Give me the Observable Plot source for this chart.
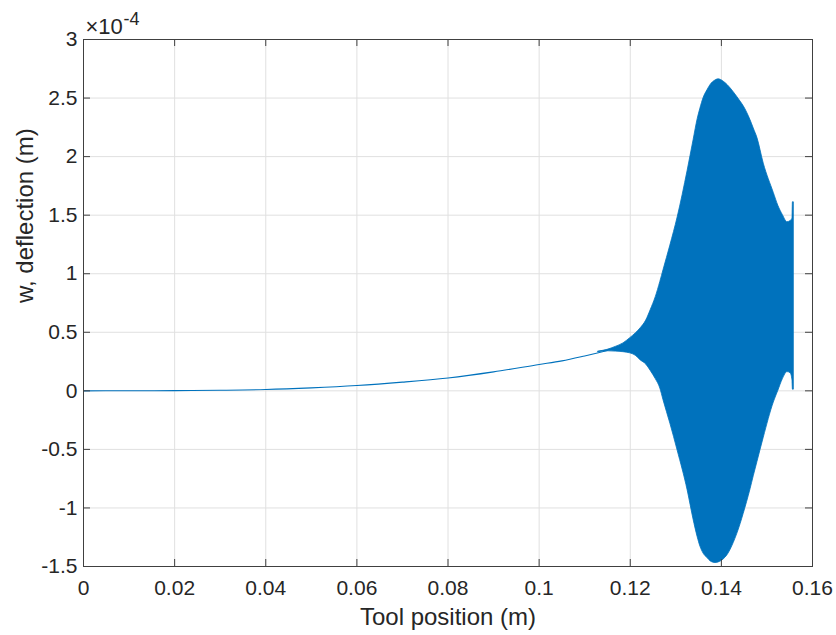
<!DOCTYPE html>
<html>
<head>
<meta charset="utf-8">
<script src="https://cdn.jsdelivr.net/npm/d3@7"></script>
<script src="https://cdn.jsdelivr.net/npm/@observablehq/plot@0.6"></script>
<style>
  html, body { margin: 0; padding: 0; background: #fff; }
</style>
</head>
<body>
<div id="chart"></div>
<script>
// Values of w are in units of 1e-4 m (axis multiplier ×10^-4)
const xTicks = [0, 0.02, 0.04, 0.06, 0.08, 0.1, 0.12, 0.14, 0.16];
const xTickLabels = ["0", "0.02", "0.04", "0.06", "0.08", "0.1", "0.12", "0.14", "0.16"];
const yTicks = [-1.5, -1, -0.5, 0, 0.5, 1, 1.5, 2, 2.5, 3];
const yTickLabels = ["-1.5", "-1", "-0.5", "0", "0.5", "1", "1.5", "2", "2.5", "3"];

// Smooth (pre-chatter) part of the deflection
const smoothX = [0, 0.01, 0.02, 0.03, 0.04, 0.05, 0.06, 0.07, 0.08, 0.09, 0.10, 0.105, 0.11, 0.113, 0.115];
const smoothW = [0, 0.0005, 0.002, 0.005, 0.011, 0.025, 0.045, 0.074, 0.11, 0.162, 0.225, 0.256, 0.298, 0.325, 0.344];

// Oscillation envelope (chatter region)
const envX  = [0.1130, 0.1150, 0.1168, 0.1185, 0.1200, 0.1212, 0.1223, 0.1235, 0.1245, 0.1256, 0.1266, 0.1273, 0.1288, 0.1304, 0.1326, 0.1339, 0.1348, 0.1354, 0.1361, 0.1370, 0.1376, 0.1387, 0.1394, 0.1405, 0.1414, 0.1427, 0.1442, 0.1449, 0.1464, 0.1471, 0.1479, 0.1493, 0.1515, 0.1525, 0.1535, 0.1545, 0.1552, 0.1556, 0.1557, 0.1559];
const envHi = [0.335, 0.350, 0.375, 0.405, 0.450, 0.490, 0.535, 0.600, 0.690, 0.800, 0.930, 1.03, 1.24, 1.48, 1.88, 2.14, 2.32, 2.41, 2.50, 2.57, 2.61, 2.65, 2.66, 2.64, 2.61, 2.55, 2.47, 2.43, 2.31, 2.24, 2.16, 1.94, 1.69, 1.58, 1.50, 1.44, 1.45, 1.47, 1.61, 1.61];
const envLo = [0.330, 0.338, 0.335, 0.330, 0.320, 0.300, 0.260, 0.225, 0.170, 0.100, 0.020, -0.08, -0.28, -0.51, -0.85, -1.10, -1.25, -1.33, -1.39, -1.43, -1.455, -1.47, -1.465, -1.44, -1.40, -1.30, -1.14, -1.05, -0.84, -0.73, -0.61, -0.40, -0.10, 0.0, 0.10, 0.16, 0.15, 0.09, 0.01, 0.01];

const xLabel = "Tool position (m)";
const yLabel = "w, deflection (m)";
const expBase = "×10";
const expPow = "-4";

const smooth = smoothX.map((x, i) => ({x, w: smoothW[i]}));
const env = envX.map((x, i) => ({x, hi: envHi[i], lo: envLo[i]}));

const W = 836, H = 635;
const mL = 83, mR = 24, mT = 39, mB = 69;
const innerW = W - mL - mR, innerH = H - mT - mB;
const tickLen = 7;
const blue = "#0072BD";
const axisColor = "#404040";
const gridColor = "#e0e0e0";
const textColor = "#262626";

const chart = Plot.plot({
  width: W, height: H,
  marginLeft: mL, marginRight: mR, marginTop: mT, marginBottom: mB,
  style: {fontFamily: "'Liberation Sans', Arial, Helvetica, sans-serif", fontSize: "21px", color: textColor, background: "white"},
  x: {domain: [0, 0.16]},
  y: {domain: [-1.5, 3]},
  marks: [
    Plot.gridX(xTicks, {x: d => d, stroke: gridColor, strokeOpacity: 1}),
    Plot.gridY(yTicks, {y: d => d, stroke: gridColor, strokeOpacity: 1}),
    Plot.lineY(smooth, {x: "x", y: "w", stroke: blue, strokeWidth: 1.1, curve: "monotone-x"}),
    Plot.areaY(env, {x: "x", y1: "lo", y2: "hi", fill: blue, stroke: blue, strokeWidth: 0.8, curve: "monotone-x"}),
    // inward ticks on all four sides
    Plot.ruleX(xTicks, {x: d => d, insetTop: innerH - tickLen, stroke: axisColor}),
    Plot.ruleX(xTicks, {x: d => d, insetBottom: innerH - tickLen, stroke: axisColor}),
    Plot.ruleY(yTicks, {y: d => d, insetRight: innerW - tickLen, stroke: axisColor}),
    Plot.ruleY(yTicks, {y: d => d, insetLeft: innerW - tickLen, stroke: axisColor}),
    Plot.frame({stroke: axisColor}),
    Plot.axisX({ticks: xTicks, tickSize: 0, tickPadding: 14, fontSize: 21, tickFormat: d => xTickLabels[xTicks.indexOf(d)], label: null, fill: textColor}),
    Plot.axisY({ticks: yTicks, tickSize: 0, tickPadding: 6, fontSize: 21, tickFormat: d => yTickLabels[yTicks.indexOf(d)], label: null, fill: textColor}),
    Plot.text([xLabel], {text: d => d, frameAnchor: "bottom", dy: 51, lineAnchor: "middle", fontSize: 24, fill: textColor}),
    Plot.text([yLabel], {text: d => d, frameAnchor: "left", dx: -58, rotate: -90, lineAnchor: "middle", fontSize: 24, fill: textColor}),
    Plot.text([expBase], {text: d => d, frameAnchor: "top-left", dx: 2, dy: -13, textAnchor: "start", lineAnchor: "middle", fontSize: 22, fill: textColor}),
    Plot.text([expPow], {text: d => d, frameAnchor: "top-left", dx: 40, dy: -20, textAnchor: "start", lineAnchor: "middle", fontSize: 18, fill: textColor})
  ]
});
document.getElementById("chart").appendChild(chart);
</script>
</body>
</html>
